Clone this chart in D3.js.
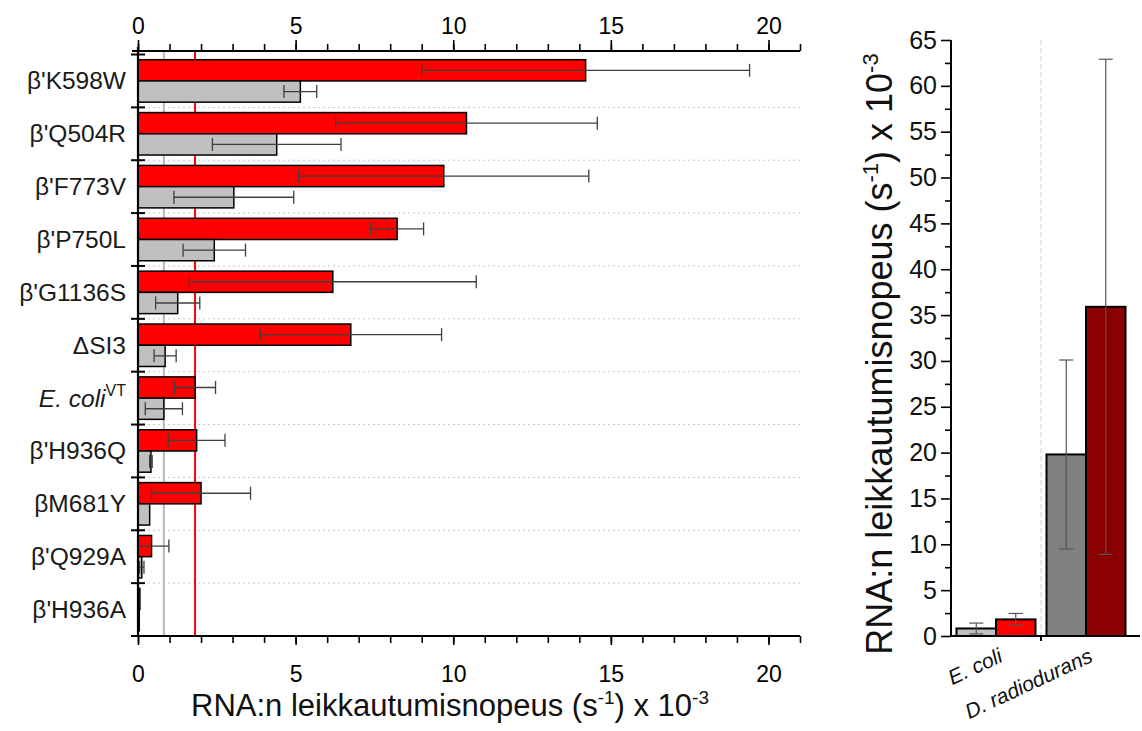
<!DOCTYPE html>
<html>
<head>
<meta charset="utf-8">
<script src="https://cdn.jsdelivr.net/npm/d3@7"></script>
<style>
  html, body { margin: 0; padding: 0; background: #fff; }
  svg { display: block; font-family: "Liberation Sans", Arial, sans-serif; }
</style>
</head>
<body>
<svg id="chart" width="1142" height="731"></svg>
<script>
// ---------- DATA ----------
const categories = ["β'K598W","β'Q504R","β'F773V","β'P750L","β'G1136S","ΔSI3","E. coli VT","β'H936Q","βM681Y","β'Q929A","β'H936A"];
const redValues  = [14.2, 10.42, 9.70, 8.22, 6.18, 6.75, 1.81, 1.86, 2.00, 0.43, 0.06];
const redErrors  = [5.2, 4.15, 4.6, 0.84, 4.55, 2.88, 0.65, 0.90, 1.57, 0.55, 0];
const grayValues = [5.15, 4.40, 3.04, 2.42, 1.26, 0.86, 0.82, 0.41, 0.37, 0.12, 0.04];
const grayErrors = [0.52, 2.04, 1.90, 0.99, 0.70, 0.35, 0.59, 0.04, 0, 0.07, 0];
const xTicksLeft = [0, 5, 10, 15, 20];

const groups = ["E. coli", "D. radiodurans"];
const rightGray = [0.82, 19.8];
const rightGrayErr = [0.59, 10.3];
const rightRed = [1.81, 35.9];
const rightRedErr = [0.65, 27.0];
const yTicksRight = [0,5,10,15,20,25,30,35,40,45,50,55,60,65];

// ---------- SETUP ----------
const svg = d3.select("#chart");
svg.append("rect").attr("width",1142).attr("height",731).attr("fill","#fff");
const FONT = '"Liberation Sans", Arial, sans-serif';

// ---------- LEFT CHART ----------
const xL = d3.scaleLinear().domain([0, 21]).range([138, 800]);
const yL = d3.scaleBand().domain(categories).range([54.5, 636]);
const sub = d3.scaleBand().domain(["red","gray"]).range([0, yL.bandwidth()]).paddingOuter(0.245);

const left = svg.append("g");

// dotted gridlines at band boundaries
left.selectAll("line.grid").data(categories.slice(1)).enter().append("line")
  .attr("x1", xL(0)).attr("x2", xL(21))
  .attr("y1", d => yL(d)).attr("y2", d => yL(d))
  .attr("stroke", "#c8c8c8").attr("stroke-width", 1).attr("stroke-dasharray", "2,3");

// reference lines (E. coli VT values)
const vtIdx = categories.indexOf("E. coli VT");
left.append("line").attr("x1", xL(grayValues[vtIdx])).attr("x2", xL(grayValues[vtIdx]))
  .attr("y1", 51).attr("y2", 636).attr("stroke", "#b8b8b8").attr("stroke-width", 2);
left.append("line").attr("x1", xL(redValues[vtIdx])).attr("x2", xL(redValues[vtIdx]))
  .attr("y1", 51).attr("y2", 636).attr("stroke", "#ff0000").attr("stroke-width", 2);

// bars
const rows = categories.map((c,i) => ({c, r: redValues[i], re: redErrors[i], g: grayValues[i], ge: grayErrors[i]}));
left.selectAll("rect.red").data(rows).enter().append("rect")
  .attr("x", xL(0)).attr("y", d => yL(d.c) + sub("red"))
  .attr("width", d => xL(d.r) - xL(0)).attr("height", sub.bandwidth())
  .attr("fill", "#ff0000").attr("stroke", "#000").attr("stroke-width", 1.5);
left.selectAll("rect.gray").data(rows).enter().append("rect")
  .attr("x", xL(0)).attr("y", d => yL(d.c) + sub("gray"))
  .attr("width", d => xL(d.g) - xL(0)).attr("height", sub.bandwidth())
  .attr("fill", "#c0c0c0").attr("stroke", "#000").attr("stroke-width", 1.5);

// error bars (horizontal)
function hErr(g, v, e, yc) {
  if (e <= 0) return;
  const lo = Math.max(0, v - e), hi = v + e;
  const errColor = "#3f3f3f";
  g.append("line").attr("x1", xL(lo)).attr("x2", xL(hi)).attr("y1", yc).attr("y2", yc)
    .attr("stroke", errColor).attr("stroke-width", 1.3);
  [v - e, hi].forEach(p => {
    if (p < 0) return;
    g.append("line").attr("x1", xL(p)).attr("x2", xL(p)).attr("y1", yc - 6.5).attr("y2", yc + 6.5)
      .attr("stroke", errColor).attr("stroke-width", 1.3);
  });
}
rows.forEach(d => {
  hErr(left, d.r, d.re, yL(d.c) + sub("red") + sub.bandwidth()/2);
  hErr(left, d.g, d.ge, yL(d.c) + sub("gray") + sub.bandwidth()/2);
});

// bottom axis
const minorTicks = d3.range(0, 22, 1);
const bottomMinor = left.append("g").attr("transform", "translate(0,636)")
  .call(d3.axisBottom(xL).tickValues(minorTicks).tickSize(7).tickFormat(""));
const bottomAx = left.append("g").attr("transform", "translate(0,636)")
  .call(d3.axisBottom(xL).tickValues(xTicksLeft).tickSize(9).tickPadding(21));
// top axis
const topMinor = left.append("g").attr("transform", "translate(0,51)")
  .call(d3.axisTop(xL).tickValues(minorTicks).tickSize(7).tickFormat(""));
const topAx = left.append("g").attr("transform", "translate(0,51)")
  .call(d3.axisTop(xL).tickValues(xTicksLeft).tickSize(11).tickPadding(6));

[bottomMinor, bottomAx, topMinor, topAx].forEach(a => {
  a.select(".domain").remove();
  a.selectAll("line").attr("stroke", "#000").attr("stroke-width", 1.6);
  a.selectAll("text").attr("font-size", 23).attr("font-family", FONT).attr("fill", "#000");
});
left.append("line").attr("x1", 132).attr("x2", 800).attr("y1", 636).attr("y2", 636).attr("stroke", "#000").attr("stroke-width", 2.2);
left.append("line").attr("x1", 132).attr("x2", 800).attr("y1", 51).attr("y2", 51).attr("stroke", "#000").attr("stroke-width", 2.2);
left.append("line").attr("x1", 138).attr("x2", 138).attr("y1", 47).attr("y2", 637).attr("stroke", "#000").attr("stroke-width", 2.2);

// left ticks at band boundaries
const bounds = categories.map(c => yL(c)).concat([yL.range()[1]]);
left.selectAll("line.lt").data(bounds).enter().append("line")
  .attr("x1", 131).attr("x2", 145).attr("y1", d => d).attr("y2", d => d)
  .attr("stroke", "#000").attr("stroke-width", 2);

// category labels
categories.forEach(c => {
  const t = left.append("text").attr("x", 126).attr("y", yL(c) + yL.bandwidth()/2 + 8.5)
    .attr("text-anchor", "end").attr("font-size", 24.5).attr("font-family", FONT).attr("fill", "#1a1a1a");
  if (c === "E. coli VT") {
    t.append("tspan").attr("font-style", "italic").text("E. coli");
    t.append("tspan").attr("font-size", 16).attr("dy", -11).text("VT");
  } else {
    t.text(c);
  }
});

// x title
const xt = left.append("text").attr("x", 450).attr("y", 716).attr("text-anchor", "middle")
  .attr("font-size", 31).attr("font-family", FONT).attr("fill", "#111");
xt.append("tspan").text("RNA:n leikkautumisnopeus (s");
xt.append("tspan").attr("font-size", 19).attr("dy", -12).text("-1");
xt.append("tspan").attr("dy", 12).text(") x 10");
xt.append("tspan").attr("font-size", 19).attr("dy", -12).text("-3");

// ---------- RIGHT CHART ----------
const xR0 = d3.scaleBand().domain(groups).range([951, 1131]);
const xR1 = d3.scaleBand().domain(["gray","red"]).range([0, xR0.bandwidth()]).paddingOuter(0.139);
const yR = d3.scaleLinear().domain([0, 65]).range([636, 40]);
const right = svg.append("g");

// dashed separator
right.append("line").attr("x1", xR0(groups[1])).attr("x2", xR0(groups[1]))
  .attr("y1", 40).attr("y2", 636).attr("stroke", "#d0d0d0").attr("stroke-width", 1).attr("stroke-dasharray", "5,3");

const grayFill = ["#c0c0c0", "#808080"];
const redFill = ["#ff0000", "#8b0000"];
const rdata = groups.map((g,i) => ({g, i, gv: rightGray[i], ge: rightGrayErr[i], rv: rightRed[i], re: rightRedErr[i]}));
right.selectAll("rect.rg").data(rdata).enter().append("rect")
  .attr("x", d => xR0(d.g) + xR1("gray")).attr("y", d => yR(d.gv))
  .attr("width", xR1.bandwidth()).attr("height", d => yR(0) - yR(d.gv))
  .attr("fill", d => grayFill[d.i]).attr("stroke", "#000").attr("stroke-width", 2);
right.selectAll("rect.rr").data(rdata).enter().append("rect")
  .attr("x", d => xR0(d.g) + xR1("red")).attr("y", d => yR(d.rv))
  .attr("width", xR1.bandwidth()).attr("height", d => yR(0) - yR(d.rv))
  .attr("fill", d => redFill[d.i]).attr("stroke", "#000").attr("stroke-width", 2);

function vErr(g, xc, v, e) {
  const c = "#555";
  g.append("line").attr("x1", xc).attr("x2", xc).attr("y1", yR(v - e)).attr("y2", yR(v + e))
    .attr("stroke", c).attr("stroke-width", 1.2);
  [v - e, v + e].forEach(p => g.append("line").attr("x1", xc - 7).attr("x2", xc + 7)
    .attr("y1", yR(p)).attr("y2", yR(p)).attr("stroke", c).attr("stroke-width", 1.2));
}
rdata.forEach(d => {
  vErr(right, xR0(d.g) + xR1("gray") + xR1.bandwidth()/2, d.gv, d.ge);
  vErr(right, xR0(d.g) + xR1("red") + xR1.bandwidth()/2, d.rv, d.re);
});

// y axis
const minorR = d3.range(2.5, 65, 5);
const rMinor = right.append("g").attr("transform", "translate(951,0)")
  .call(d3.axisLeft(yR).tickValues(minorR).tickSize(6).tickFormat(""));
const rAx = right.append("g").attr("transform", "translate(951,0)")
  .call(d3.axisLeft(yR).tickValues(yTicksRight).tickSize(10).tickPadding(4));
[rMinor, rAx].forEach(a => {
  a.select(".domain").remove();
  a.selectAll("line").attr("stroke", "#000").attr("stroke-width", 1.6);
  a.selectAll("text").attr("font-size", 25).attr("font-family", FONT).attr("fill", "#111");
});
right.append("line").attr("x1", 951).attr("x2", 951).attr("y1", 40).attr("y2", 637).attr("stroke", "#000").attr("stroke-width", 2);
right.append("line").attr("x1", 950).attr("x2", 1140).attr("y1", 636).attr("y2", 636).attr("stroke", "#000").attr("stroke-width", 2);
right.append("line").attr("x1", xR0(groups[1])).attr("x2", xR0(groups[1])).attr("y1", 636).attr("y2", 641).attr("stroke", "#000").attr("stroke-width", 2);

// x labels (rotated, italic)
groups.forEach(g => {
  const cx = xR0(g) + xR0.bandwidth()/2;
  right.append("text").attr("transform", `translate(${cx + 8},${661}) rotate(-25)`)
    .attr("text-anchor", "end").attr("font-size", 21).attr("font-style", "italic")
    .attr("font-family", FONT).attr("fill", "#111").text(g);
});

// y title
const yt = right.append("text").attr("transform", "translate(892,354) rotate(-90)")
  .attr("text-anchor", "middle").attr("font-size", 36).attr("font-family", FONT).attr("fill", "#111");
yt.append("tspan").text("RNA:n leikkautumisnopeus (s");
yt.append("tspan").attr("font-size", 22).attr("dy", -14).text("-1");
yt.append("tspan").attr("dy", 14).text(") x 10");
yt.append("tspan").attr("font-size", 22).attr("dy", -14).text("-3");
</script>
</body>
</html>
